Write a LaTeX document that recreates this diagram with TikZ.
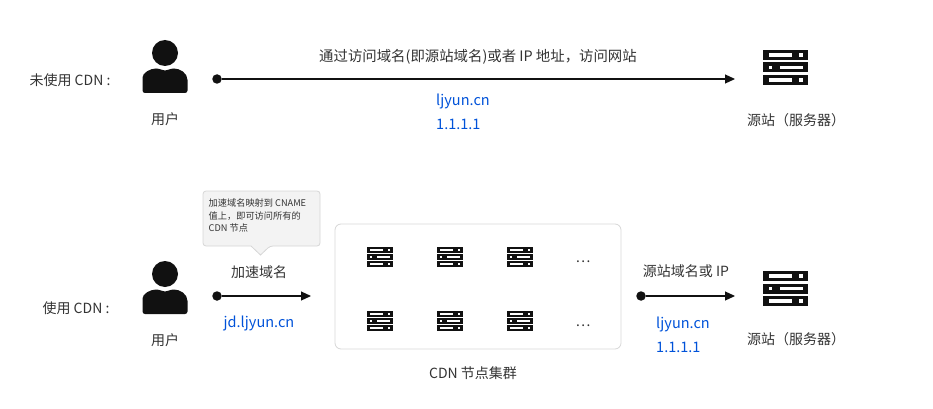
\documentclass[tikz,border=0pt]{standalone}
\usepackage{fontspec}
\setmainfont{Noto Sans CJK SC}
\usetikzlibrary{arrows.meta}
\definecolor{linkblue}{HTML}{0052D9}
\definecolor{textgray}{HTML}{333333}
\definecolor{tipfill}{HTML}{F3F3F3}
\definecolor{tipline}{HTML}{D6D6D6}
\definecolor{cardline}{HTML}{D6D6D6}
\definecolor{iconblack}{HTML}{111111}
\newcommand{\fsize}[1]{\fontsize{#1}{#1}\selectfont}
\newcommand{\originname}{源站^^^^ff08服务器^^^^ff09}
\tikzset{
  pics/serverpic/.style={code={
    % three racks, unit width 1, rack height 0.22
    \foreach \rowy/\flip in {0/0,1/1,2/0} {
      \begin{scope}[shift={(0,\rowy*#1*12.5)}]
        \fill[iconblack] (-22.5*#1,-5*#1) rectangle (22.5*#1,5*#1);
        \ifnum\flip=0
          \fill[white] (-17*#1,-1.6*#1) rectangle (6*#1,1.6*#1);
          \fill[white] (13.5*#1,-1.6*#1) rectangle (17*#1,1.6*#1);
        \else
          \fill[white] (-17*#1,-1.6*#1) rectangle (-13.5*#1,1.6*#1);
          \fill[white] (-6*#1,-1.6*#1) rectangle (17*#1,1.6*#1);
        \fi
      \end{scope}
    }
  }},
  pics/userpic/.style={code={
    \fill[iconblack] (0,-13) circle (13);
    \fill[iconblack, rounded corners=2.5pt] (-22.5,27) -- (-22.5,14)
      [sharp corners] .. controls (-22.5,7) and (-15,2.5) .. (-9,2.5)
      .. controls (-5,2.5) and (-3,4.5) .. (0,4.5)
      .. controls (3,4.5) and (5,2.5) .. (9,2.5)
      .. controls (15,2.5) and (22.5,7) .. (22.5,14)
      [rounded corners=2.5pt] -- (22.5,27) -- cycle;
  }}
}
\begin{document}
\begin{tikzpicture}[
  x=1pt, y=-1pt,
  label/.style={inner sep=0pt, text=textgray, font=\fsize{14}},
  link/.style={inner sep=0pt, text=linkblue, font=\fsize{14.5}},
  dot/.style={circle, fill=iconblack, inner sep=0pt, minimum size=9.5pt},
  arrow/.style={-{Triangle[length=10pt,width=9pt]}, line width=1.1pt, iconblack}
]
  \useasboundingbox (0,0) rectangle (933,409);

  % Without CDN (top)
  \node[label] (plainlabel) at (70,80) {未使用 CDN :};
  \pic at (165,66) {userpic};
  \node[label] (plainuser) at (165,119.5) {用户};
  \node[dot] (plainstart) at (217,79) {};
  \coordinate (plainend) at (735,79);
  \draw[arrow] (plainstart) -- (plainend);
  \node[label, font=\fsize{14.4}] (plaintext) at (478,57) {通过访问域名(即源站域名)或者 IP 地址^^^^ff0c访问网站};
  \node[link, anchor=west] (plaindomain) at (436,101) {ljyun.cn};
  \node[link, anchor=west] (plainip) at (436,124.5) {1.1.1.1};
  \pic at (785.5,55) {serverpic=1};
  \node[label] (plainorigin) at (796,120) {\originname};

  % With CDN (bottom)
  \node[label] (cdnlabel) at (76,308) {使用 CDN :};
  \pic at (165,287) {userpic};
  \node[label] (cdnuser) at (165,340.5) {用户};

  % Tooltip over the accelerated domain
  \draw[tipline, fill=tipfill, line width=0.8pt, rounded corners=3pt]
    (203,191) -- (320,191) -- (320,246) -- (270,246) [sharp corners] -- (260.5,255) -- (251,246)
    [rounded corners=3pt] -- (203,246) -- cycle;
  \node[inner sep=0pt, anchor=north west, align=left, text=textgray, font=\fsize{9.2}] (tiptext) at (208.5,199)
    {加速域名映射到 CNAME\\[3pt]值上^^^^ff0c即可访问所有的\\[3pt]CDN 节点};

  \node[label] (cdnname) at (259,272) {加速域名};
  \node[dot] (cdnstart) at (217,296) {};
  \coordinate (cdnend) at (311,296);
  \draw[arrow] (cdnstart) -- (cdnend);
  \node[link] (cdndomain) at (259,323) {jd.ljyun.cn};

  % CDN node cluster
  \node[draw=cardline, line width=0.8pt, rounded corners=6pt, minimum width=286pt, minimum height=125pt, inner sep=0pt] (cluster) at (478,286.5) {};
  \foreach \nodex in {380,450,520} {
    \pic at (\nodex,249.75) {serverpic=0.56};
    \pic at (\nodex,313.75) {serverpic=0.56};
  }
  \node[label] (moreup) at (583,261.5) {…};
  \node[label] (moredown) at (583,325.5) {…};
  \node[label] (clustername) at (473,373) {CDN 节点集群};

  % Back to origin
  \node[label] (backtext) at (686,271) {源站域名或 IP};
  \node[dot] (backstart) at (641,296) {};
  \coordinate (backend) at (735,296);
  \draw[arrow] (backstart) -- (backend);
  \node[link, anchor=west] (backdomain) at (656,324) {ljyun.cn};
  \node[link, anchor=west] (backip) at (656,347.5) {1.1.1.1};
  \pic at (785.5,276) {serverpic=1};
  \node[label] (backorigin) at (796,339) {\originname};
\end{tikzpicture}
\end{document}
